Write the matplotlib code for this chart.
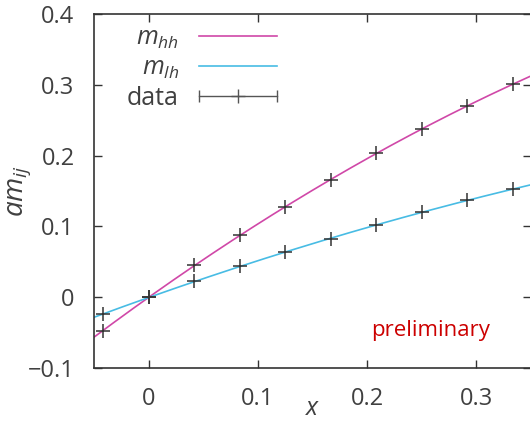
import matplotlib.pyplot as plt
import numpy as np
from matplotlib.lines import Line2D
from matplotlib.legend_handler import HandlerLine2D

plt.rcParams['font.family'] = ['Open Sans', 'DejaVu Sans']
plt.rcParams['mathtext.fontset'] = 'custom'
plt.rcParams['mathtext.rm'] = 'Open Sans'
plt.rcParams['mathtext.it'] = 'Open Sans:italic'

# data
x = [-1/24, 0, 1/24, 2/24, 3/24, 4/24, 5/24, 6/24, 7/24, 8/24]
m_hh = [-0.0474, 0.0, 0.045, 0.0873, 0.127, 0.166, 0.203, 0.2376, 0.270, 0.301]
m_lh = [-0.0244, 0.0, 0.0225, 0.0437, 0.0638, 0.0827, 0.1014, 0.120, 0.1366, 0.153]

c_hh = '#d048a8'
c_lh = '#48bce4'
txt = '#404040'

fig = plt.figure(figsize=(5.3, 4.21), dpi=100)
ax = fig.add_axes([94/530, 1 - 368/421, 437/530, 354/421])

# fitted curves (quadratic fit through the data)
xf = np.linspace(-0.05, 0.35, 200)
p_hh = np.polyfit(x, m_hh, 2)
p_lh = np.polyfit(x, m_lh, 2)
ax.plot(xf, np.polyval(p_hh, xf), color=c_hh, lw=1.2)
ax.plot(xf, np.polyval(p_lh, xf), color=c_lh, lw=1.2)

ax.plot(x, m_hh, '+', color='#333333', ms=10, mew=1.1)
ax.plot(x, m_lh, '+', color='#333333', ms=10, mew=1.1)

ax.set_xlim(-0.05, 0.35)
ax.set_ylim(-0.1, 0.4)
ax.set_xticks([0, 0.1, 0.2, 0.3])
ax.set_xticklabels(['0', '0.1', '0.2', '0.3'])
ax.set_yticks([-0.1, 0, 0.1, 0.2, 0.3, 0.4])
ax.set_yticklabels(['\u22120.1', '0', '0.1', '0.2', '0.3', '0.4'])
ax.tick_params(direction='in', length=6, width=1.0, color='#333333',
               top=True, right=True, labelsize=17, labelcolor=txt)
ax.tick_params(axis='x', pad=14)
ax.tick_params(axis='y', pad=14)
for s in ax.spines.values():
    s.set_linewidth(1.2)
    s.set_color('#333333')

ax.set_xlabel('$x$', fontsize=18, color=txt)
ax.xaxis.set_label_coords(0.5, -0.078)
ax.set_ylabel('$am_{ij}$', fontsize=20, color=txt)
ax.yaxis.set_label_coords(-0.14, 0.5)

ax.text(0.258, -0.047, 'preliminary', color='#cc0000', fontsize=16,
        ha='center', va='center')

# legend, gnuplot style: text first, sample after
h_hh = Line2D([], [], color=c_hh, lw=1.2)
h_lh = Line2D([], [], color=c_lh, lw=1.2)
h_bar = Line2D([], [], color='#555555', lw=1.0, marker='|', ms=9, mew=1.0)
h_pt = Line2D([], [], color='#555555', ls='none', marker='+', ms=10, mew=1.0)
leg = ax.legend([h_hh, h_lh, (h_bar, h_pt)],
                ['$m_{hh}$', '$m_{lh}$', 'data'],
                markerfirst=False, frameon=False, fontsize=18,
                handlelength=3.1, handletextpad=0.8, labelspacing=0.2,
                borderpad=0, loc='upper right',
                bbox_to_anchor=(289/530, 1 - 13/421),
                bbox_transform=fig.transFigure,
                handler_map={h_bar: HandlerLine2D(numpoints=2, marker_pad=0),
                             h_pt: HandlerLine2D(numpoints=1)})
for t in leg.get_texts():
    t.set_color(txt)

fig.savefig('out.png', dpi=100)
